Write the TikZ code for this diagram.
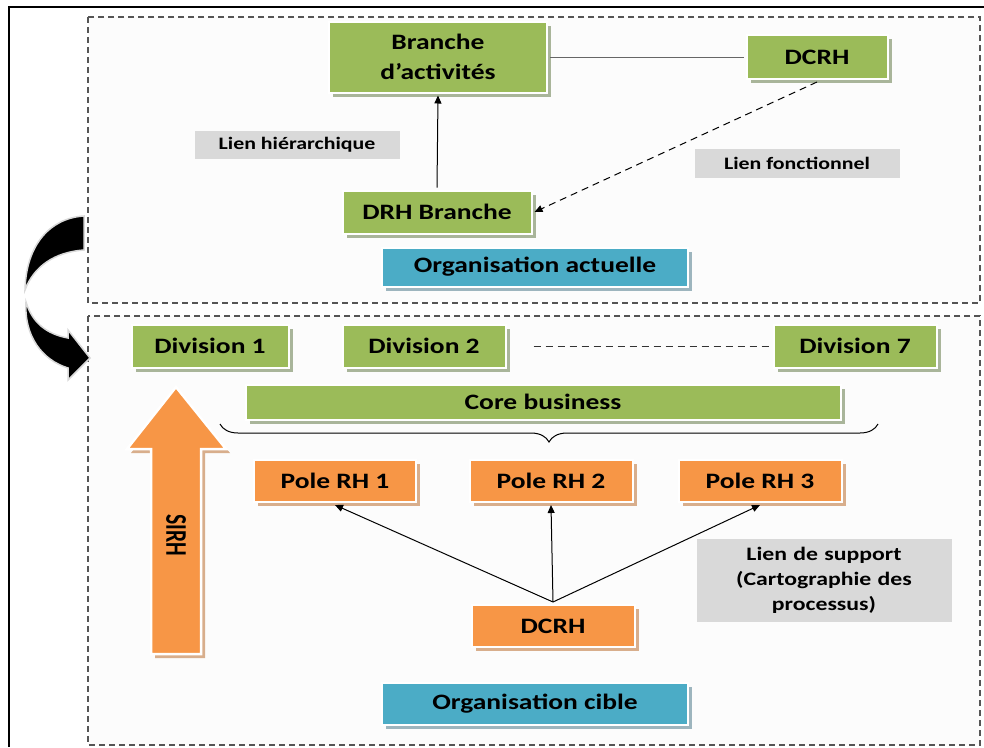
\documentclass[tikz,border=0pt]{standalone}
\usepackage{fontspec}
\setmainfont{Carlito}[FakeStretch=1.25]
\newfontfamily\sirhfont{Carlito}[FakeStretch=0.72]
\usetikzlibrary{arrows.meta, positioning, calc, shadows, decorations.pathreplacing}
\definecolor{BoxGreen}{HTML}{9BBB59}
\definecolor{BoxOrange}{HTML}{F79646}
\definecolor{BoxBlue}{HTML}{4BACC6}
\definecolor{LabGray}{HTML}{D9D9D9}
\definecolor{GreenShade}{HTML}{A9B59A}
\definecolor{OrangeShade}{HTML}{D8AE8C}
\definecolor{BlueShade}{HTML}{9DB5BE}
\definecolor{FrameGray}{HTML}{555555}
\definecolor{PanelFill}{HTML}{FCFCFC}

\begin{document}
\begin{tikzpicture}[
    x=1pt, y=-1pt, >=Triangle,
    every node/.style={text=black, inner sep=0pt, outer sep=3pt},
    big/.style={font=\fontsize{22}{30}\selectfont\bfseries},
    small/.style={font=\fontsize{17.5}{22}\selectfont\bfseries},
    gbox/.style={big, fill=BoxGreen, draw=white, line width=2pt,
      drop shadow={shadow xshift=4pt, shadow yshift=-4pt, fill=GreenShade, opacity=1}},
    obox/.style={big, fill=BoxOrange, draw=white, line width=2pt,
      drop shadow={shadow xshift=4pt, shadow yshift=-4pt, fill=OrangeShade, opacity=1}},
    bbox/.style={big, fill=BoxBlue, draw=white, line width=2pt,
      drop shadow={shadow xshift=4pt, shadow yshift=-4pt, fill=BlueShade, opacity=1}},
    lab/.style={small, fill=LabGray},
    panel/.style={draw=FrameGray, fill=PanelFill, line width=1.2pt, dash pattern=on 6pt off 4pt},
    link/.style={black, line width=1pt, -{Triangle[length=8pt, width=7pt]}},
  ]
  \useasboundingbox (0,0) rectangle (984,747);
  % cadre exterieur
  \draw[black, line width=1.3pt] (9,747) -- (9,7) -- (984,7);
  % --- organisation actuelle ---
  \draw[panel] (88,17) rectangle (980,303);
  \node[gbox, minimum width=218, minimum height=71, align=center] (branche) at (438,57) {Branche\\d’activités};
  \node[gbox, minimum width=141, minimum height=44] (dcrhA) at (817,57) {DCRH};
  \node[lab, minimum width=205, minimum height=28] (lienH) at (297,145) {Lien hiérarchique};
  \node[gbox, minimum width=189, minimum height=43] (drhB) at (437,212) {DRH Branche};
  \node[lab, minimum width=205, minimum height=29] (lienF) at (797,163) {Lien fonctionnel};
  \node[bbox, minimum width=306, minimum height=39] (orgA) at (535,267) {Organisation actuelle};
  \draw[black!60, line width=1pt] (branche.east) -- (dcrhA.west);
  \draw[link] (drhB.north) -- (branche.south);
  \draw[link, dash pattern=on 7pt off 5pt] (dcrhA.south) -- (drhB.east);
  % --- organisation cible ---
  \draw[panel] (88,316) rectangle (980,745);
  \node[gbox, minimum width=157, minimum height=43] (div1) at (210,346) {Division 1};
  \node[gbox, minimum width=163, minimum height=43] (div2) at (424,346) {Division 2};
  \node[gbox, minimum width=163, minimum height=43] (div7) at (855,346) {Division 7};
  \draw[black!80, line width=1pt, dash pattern=on 7pt off 5pt, shorten <=25pt] (div2.east) -- (div7.west);
  \node[gbox, minimum width=595, minimum height=35] (core) at (543,402) {Core business};
  \draw[black, line width=1pt, decorate, decoration={brace, mirror, amplitude=18pt}] (220,424) -- (878,424);
  \node[obox, minimum width=162, minimum height=42] (pole1) at (335,481) {Pole RH 1};
  \node[obox, minimum width=163, minimum height=42] (pole2) at (551,481) {Pole RH 2};
  \node[obox, minimum width=163, minimum height=42] (pole3) at (760,481) {Pole RH 3};
  \node[obox, minimum width=163, minimum height=42] (dcrhB) at (553,626) {DCRH};
  \node[lab, minimum width=255, minimum height=83, text width=250, align=center,
    font=\fontsize{19}{25}\selectfont\bfseries] (lienS) at (824,580)
    {Lien de support\\(Cartographie des\\processus)};
  \node[bbox, minimum width=306, minimum height=42] (orgC) at (535,704) {Organisation cible};
  \coordinate (hub) at (dcrhB.north);
  \foreach \p in {pole1, pole2, pole3}
    \draw[link] (hub) -- (\p.south);
  % fleche SIRH
  \fill[OrangeShade] (155,658) -- (155,453) -- (131,453) -- (180,391) -- (230,453) -- (205,453) -- (205,658) -- cycle;
  \draw[white, line width=2.5pt, fill=BoxOrange] (151,654) -- (151,449) -- (127,449) -- (176,387) -- (226,449) -- (201,449) -- (201,654) -- cycle;
  \node[rotate=-90, font=\fontsize{30}{30}\sirhfont\bfseries] (sirh) at (176,535) {SIRH};
  % fleche courbe (actuelle -> cible)
  \filldraw[black, draw=black!15, line width=1.5pt]
    (84,216) .. controls (50,218) and (26,245) .. (25,290)
    .. controls (34,266) and (55,252) .. (84,250) -- cycle;
  \filldraw[black, draw=black!15, line width=1.5pt]
    (26,302) .. controls (32,322) and (46,334) .. (68,338) -- (68,330) -- (90,358)
    -- (68,380) -- (68,368) .. controls (42,360) and (24,336) .. (26,302) -- cycle;
\end{tikzpicture}
\end{document}
